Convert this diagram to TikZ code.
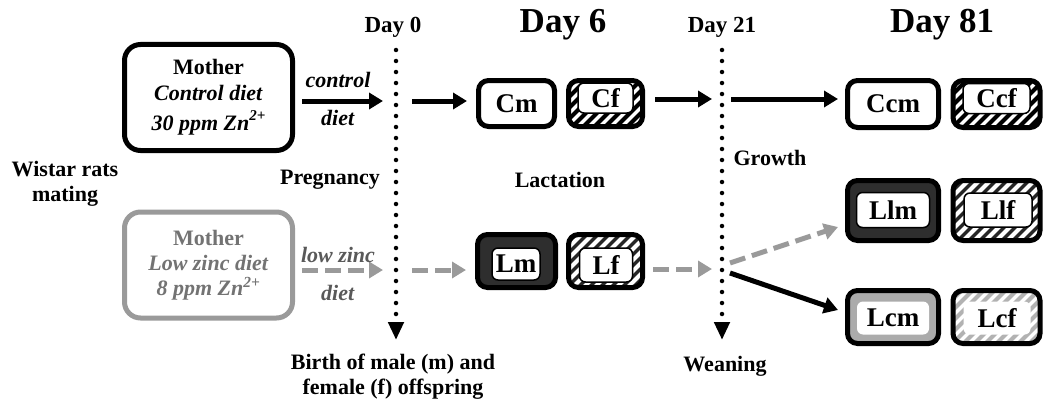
\documentclass[tikz,border=0pt]{standalone}
\usepackage{fontspec}
\setmainfont{Liberation Serif}
\usetikzlibrary{arrows.meta}
\definecolor{lowgray}{HTML}{9A9A9A}
\definecolor{darkfill}{HTML}{2E2E2E}
\definecolor{lightfill}{HTML}{ABABAB}
\begin{document}
\begin{tikzpicture}[x=1pt,y=-1pt,
        font=\bfseries\fontsize{22}{25}\selectfont,
        mom/.style={draw,line width=5pt,rounded corners=16pt,fill=white,
            minimum width=168pt,minimum height=106pt,align=center,inner sep=0pt},
        pup/.style 2 args={draw,line width=5pt,rounded corners=10pt,
            minimum width=#1,minimum height=#2,inner sep=0pt,
            font=\bfseries\fontsize{27}{27}\selectfont},
        inbox/.style 2 args={draw,line width=1.5pt,fill=white,rounded corners=6pt,
            minimum width=#1,minimum height=#2,inner sep=0pt,
            font=\bfseries\fontsize{27}{27}\selectfont},
        stripes/.style 2 args={fill=#1,path picture={
            \foreach \k in {-12,...,6}
                \draw[#2,line width=4pt] ([xshift=\k*11pt]path picture bounding box.south)
                    ++(-20pt,-20pt) -- ++(100pt,100pt);}},
        ctrlarrow/.style={line width=5pt,-{Triangle[width=16pt,length=14pt]}},
        lowarrow/.style={line width=5pt,lowgray,dash pattern=on 16pt off 7pt,
            -{Triangle[width=16pt,length=14pt]}},
        timeline/.style={line width=4.5pt,line cap=round,dash pattern=on 0pt off 11pt,
            -{Triangle[width=15pt,length=18pt]}},
        dayS/.style={font=\bfseries\fontsize{23}{23}\selectfont},
        dayL/.style={font=\bfseries\fontsize{35}{35}\selectfont}]
    \useasboundingbox (0,0) rectangle (1046,404);
    % days
    \node[dayS] (day0) at (393,27) {Day 0};
    \node[dayL] (day6) at (563,25) {Day 6};
    \node[dayS] (day21) at (722,27) {Day 21};
    \node[dayL] (day81) at (942,25) {Day 81};
    % mothers
    \node[mom] (momC) at (208.5,97.5) {Mother\\[1pt]\textit{Control diet}\\[5pt]
        \textit{30 ppm Zn}\raisebox{10pt}{\fontsize{15}{15}\selectfont\itshape 2+}};
    \node[mom,draw=lowgray,text=black!55] (momL) at (208.5,265)
        {Mother\\\textit{Low zinc diet}\\\textit{8 ppm Zn\textsuperscript{2+}}};
    \node[align=center] (mating) at (65,184) {Wistar rats\\mating};
    % time lines
    \coordinate (t0top) at (396,50);
    \coordinate (t0bot) at (396,340);
    \coordinate (t21top) at (722,50);
    \coordinate (t21bot) at (722,340);
    \draw[timeline] (t0top) -- (t0bot);
    \draw[timeline] (t21top) -- (t21bot);
    \coordinate (t0C) at (396,101);
    \coordinate (t0L) at (396,270);
    \coordinate (t21C) at (722,99);
    \coordinate (t21L) at (722,269);
    % pups, day 6
    \node[pup={76pt}{46pt},fill=white] (Cm) at (516.5,103.5) {Cm};
    \node[pup={74pt}{46pt},stripes={white}{black}] (Cf) at (605.5,103.5) {};
    \node[inbox={55pt}{30pt}] (Cf-in) at (605.5,98) {Cf};
    \node[pup={78pt}{53pt},fill=darkfill] (Lm) at (516.5,261) {};
    \node[inbox={48pt}{32pt}] (Lm-in) at (516,264) {Lm};
    \node[pup={74pt}{53pt},stripes={black!85}{white}] (Lf) at (605.5,261) {};
    \node[inbox={53pt}{34pt}] (Lf-in) at (606,265) {Lf};
    % pups, day 81
    \node[pup={91pt}{47pt},fill=white] (Ccm) at (893,104) {Ccm};
    \node[pup={87pt}{47pt},stripes={white}{black}] (Ccf) at (996.5,104) {};
    \node[inbox={67pt}{30pt}] (Ccf-in) at (996.5,98.5) {Ccf};
    \node[pup={91pt}{60pt},fill=darkfill] (Llm) at (893,210.5) {};
    \node[inbox={73pt}{35pt}] (Llm-in) at (893,210) {Llm};
    \node[pup={87pt}{60pt},stripes={black!85}{white}] (Llf) at (996.5,210.5) {};
    \node[inbox={68pt}{34pt}] (Llf-in) at (998,210) {Llf};
    \node[pup={91pt}{53pt},fill=lightfill] (Lcm) at (893,317) {};
    \node[inbox={72pt}{33pt},draw=none] (Lcm-in) at (893,318) {Lcm};
    \node[pup={87pt}{53pt},stripes={white}{black!30}] (Lcf) at (996.5,317) {};
    \node[inbox={67pt}{33pt},draw=none] (Lcf-in) at (997,318) {Lcf};
    % arrows
    \draw[ctrlarrow] ([xshift=7pt]momC.east |- t0C) -- ([xshift=-13pt]t0C);
    \draw[ctrlarrow] ([xshift=16pt]t0C) -- ([xshift=-9pt]Cm.west |- t0C);
    \draw[ctrlarrow] ([xshift=10pt]Cf.east |- t21C) -- ([xshift=-10pt]t21C);
    \draw[ctrlarrow] ([xshift=9pt]t21C) -- ([xshift=-7pt]Ccm.west |- t21C);
    \draw[lowarrow] ([xshift=7pt]momL.east |- t0L) -- ([xshift=-13pt]t0L);
    \draw[lowarrow] ([xshift=16pt]t0L) -- ([xshift=-9pt]Lm.west |- t0L);
    \draw[lowarrow] ([xshift=8pt]Lf.east |- t21L) -- ([xshift=-10pt]t21L);
    \draw[lowarrow] ([xshift=8pt,yshift=6pt]t21L) -- ([xshift=-7pt,yshift=16pt]Llm.south west);
    \draw[ctrlarrow] ([xshift=8pt,yshift=-4pt]t21L) -- ([xshift=-7pt,yshift=-22pt]Lcm.north west);
    % labels
    \node (ctrl1) at (338,80) {\textit{control}};
    \node (ctrl2) at (338,118) {\textit{diet}};
    \node[text=black!65] (low1) at (338,255) {\textit{low zinc}};
    \node[text=black!65] (low2) at (338,293) {\textit{diet}};
    \node (preg) at (330,180) {Pregnancy};
    \node (lact) at (560,180) {Lactation};
    \node (growth) at (770,158) {Growth};
    \node[align=center] (birth) at (393,377) {Birth of male (m) and\\female (f) offspring};
    \node (wean) at (725,366) {Weaning};
\end{tikzpicture}
\end{document}
